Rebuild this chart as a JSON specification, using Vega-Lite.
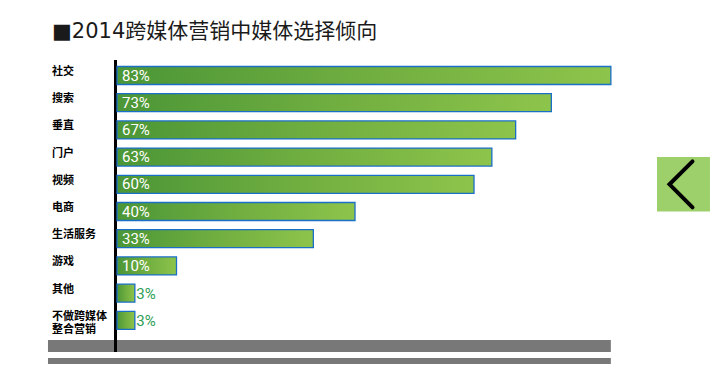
{
  "$schema": "https://vega.github.io/schema/vega-lite/v6.json",
  "width": 595,
  "height": 292,
  "autosize": "none",
  "padding": {"left": 117, "top": 60, "right": 8, "bottom": 17},
  "background": "white",
  "config": {"view": {"stroke": null}},
  "title": {
    "text": "■2014跨媒体营销中媒体选择倾向",
    "anchor": "start",
    "frame": "group",
    "dx": -65,
    "offset": 0,
    "baseline": "alphabetic",
    "font": "DejaVu Sans, Noto Sans CJK SC",
    "fontSize": 21,
    "fontWeight": "normal",
    "color": "#1a1a1a"
  },
  "layer": [
    {
      "data": {
        "values": [
          {"part": "upper", "x": -11.6, "x2": 83, "y": 10.724, "y2": 11.165},
          {"part": "lower", "x": -11.6, "x2": 83, "y": 11.386, "y2": 11.607}
        ]
      },
      "mark": {"type": "rect", "color": "#787878"},
      "encoding": {
        "x": {"field": "x", "type": "quantitative", "scale": {"domain": [0, 100], "nice": false, "zero": false, "padding": 0}, "axis": null},
        "x2": {"field": "x2"},
        "y": {"field": "y", "type": "quantitative", "scale": {"domain": [0.4301, 11.1654], "reverse": true, "nice": false, "zero": false, "padding": 0}, "axis": null},
        "y2": {"field": "y2"}
      }
    },
    {
      "data": {"values": [{"x": -0.252, "y": 0.4301, "y2": 11.1654}]},
      "mark": {"type": "rule", "color": "#000000", "strokeWidth": 3},
      "encoding": {
        "x": {"field": "x", "type": "quantitative"},
        "y": {"field": "y", "type": "quantitative"},
        "y2": {"field": "y2"}
      }
    },
    {
      "data": {"values": [{"x": 90.76, "x2": 99.66, "y": 4.0, "y2": 6.0}]},
      "mark": {"type": "rect", "color": "#9DD06A"},
      "encoding": {
        "x": {"field": "x", "type": "quantitative"},
        "x2": {"field": "x2"},
        "y": {"field": "y", "type": "quantitative"},
        "y2": {"field": "y2"}
      }
    },
    {
      "data": {"values": [{"x": 94.79, "y": 5.0}]},
      "mark": {"type": "point", "shape": "M0.5,-1L-0.5,0L0.5,1", "filled": false, "stroke": "#000000", "strokeWidth": 4, "size": 2116, "opacity": 1, "strokeCap": "round"},
      "encoding": {
        "x": {"field": "x", "type": "quantitative"},
        "y": {"field": "y", "type": "quantitative"}
      }
    },
    {
      "data": {
        "values": [
          {"label": "社交", "value": 83},
          {"label": "搜索", "value": 73},
          {"label": "垂直", "value": 67},
          {"label": "门户", "value": 63},
          {"label": "视频", "value": 60},
          {"label": "电商", "value": 40},
          {"label": "生活服务", "value": 33},
          {"label": "游戏", "value": 10},
          {"label": "其他", "value": 3},
          {"label": "不做跨媒体整合营销", "value": 3}
        ]
      },
      "transform": [
        {"window": [{"op": "row_number", "as": "row"}]},
        {"calculate": "datum.value + '%'", "as": "pct"},
        {"calculate": "datum.label == '不做跨媒体整合营销' ? ['不做跨媒体', '整合营销'] : datum.label", "as": "lbl"}
      ],
      "encoding": {
        "y": {"field": "row", "type": "quantitative", "scale": {"padding": 0}}
      },
      "layer": [
        {
          "mark": {
            "type": "bar",
            "orient": "horizontal",
            "height": 18,
            "fill": {
              "gradient": "linear",
              "x1": 0, "x2": 1, "y1": 0, "y2": 0,
              "stops": [
                {"offset": 0, "color": "#4B9637"},
                {"offset": 0.5, "color": "#70AE40"},
                {"offset": 1, "color": "#8DC44B"}
              ]
            },
            "stroke": "#1B6FC6",
            "strokeWidth": 1.3
          },
          "encoding": {
            "x": {"field": "value", "type": "quantitative"}
          }
        },
        {
          "mark": {"type": "text", "align": "left", "baseline": "middle", "dy": -3.5, "font": "Noto Sans CJK SC", "fontSize": 11, "fontWeight": "bold", "color": "#000000", "lineHeight": 13},
          "encoding": {
            "x": {"datum": -10.92, "type": "quantitative"},
            "text": {"field": "lbl"}
          }
        },
        {
          "transform": [{"filter": "datum.value >= 5"}],
          "mark": {"type": "text", "align": "left", "baseline": "middle", "dx": 5, "font": "Roboto", "fontSize": 15, "color": "#ffffff"},
          "encoding": {
            "x": {"datum": 0, "type": "quantitative"},
            "text": {"field": "pct"}
          }
        },
        {
          "transform": [{"filter": "datum.value < 5"}],
          "mark": {"type": "text", "align": "left", "baseline": "middle", "dx": 1.5, "dy": 1, "font": "Roboto", "fontSize": 15, "color": "#2E9E55"},
          "encoding": {
            "x": {"field": "value", "type": "quantitative"},
            "text": {"field": "pct"}
          }
        }
      ]
    }
  ]
}
